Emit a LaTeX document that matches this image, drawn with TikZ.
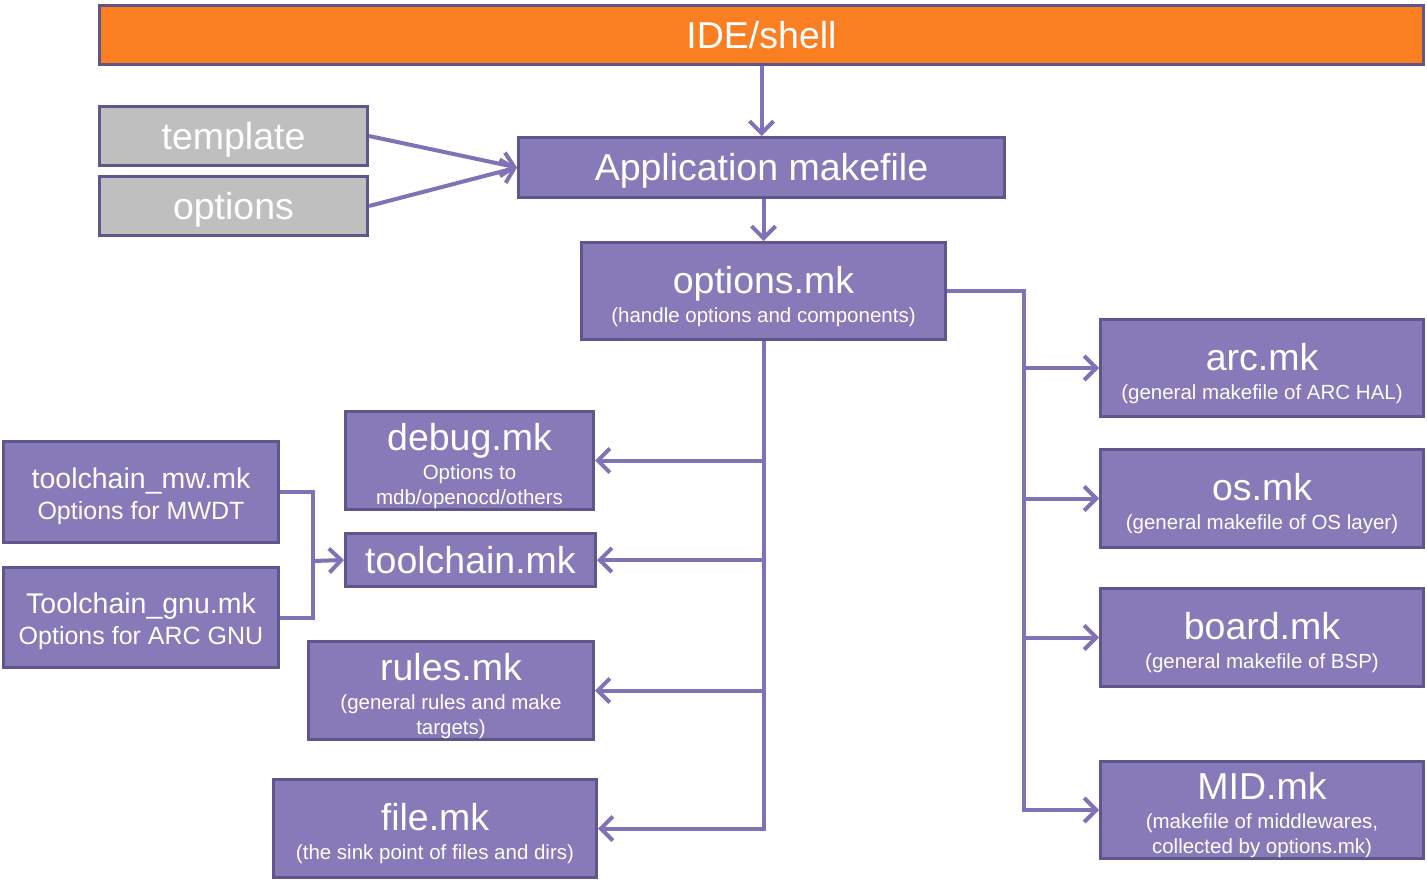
\documentclass[tikz,border=0pt]{standalone}
\usepackage{fontspec}
\setmainfont{Liberation Sans}
\usetikzlibrary{arrows.meta,positioning}
\usepackage{xcolor}
\definecolor{mkfill}{RGB}{134,122,184}
\definecolor{mkline}{RGB}{96,86,140}
\definecolor{wire}{RGB}{128,114,182}
\definecolor{shellfill}{RGB}{250,126,34}
\definecolor{tplfill}{RGB}{191,191,191}
\newcommand{\subtxt}{\fontsize{20.5}{25}\selectfont}
\newcommand{\tcsub}{\fontsize{25}{31}\selectfont}
\newcommand{\hd}{\rule{0pt}{1em}}

\begin{document}
\begin{tikzpicture}[x=1pt,y=-1pt,
			mkbox/.style={rectangle, draw=mkline, line width=3pt, fill=mkfill, text=white,
				inner sep=0pt, align=center, font=\fontsize{37.5}{29}\selectfont},
			single/.style={mkbox, text height=34pt, text depth=8pt},
			shell/.style={single, fill=shellfill},
			tpl/.style={single, fill=tplfill},
			tcbox/.style={mkbox, font=\fontsize{28.5}{31}\selectfont},
			link/.style={->, draw=wire, line width=4pt},
			wire/.style={draw=wire, line width=4pt},
			>={Straight Barb[length=12pt,width=24pt]}
			]
			\useasboundingbox (0,0) rectangle (1427,881);
			
			\node[shell, minimum width=1324pt, minimum height=59pt] (ide) at (761.5,35) {IDE/shell};
			\node[tpl, minimum width=268pt, minimum height=59pt] (template) at (233.5,136) {template};
			\node[tpl, minimum width=268pt, minimum height=59pt] (opts) at (233.5,206) {options};
			\node[single, minimum width=486pt, minimum height=60pt] (app) at (761.5,167.5) {Application makefile};
			\node[mkbox, minimum width=364pt, minimum height=97pt] (optmk) at (763.5,291)
			{\hd options.mk\\\subtxt (handle options and components)};
			
			\node[mkbox, minimum width=323pt, minimum height=97pt] (arc) at (1262,368)
			{\hd arc.mk\\\subtxt (general makefile of ARC HAL)};
			\node[mkbox, minimum width=323pt, minimum height=98pt] (os) at (1262,498.5)
			{\hd os.mk\\\subtxt (general makefile of OS layer)};
			\node[mkbox, minimum width=323pt, minimum height=98pt] (board) at (1262,637.5)
			{\hd board.mk\\\subtxt (general makefile of BSP)};
			\node[mkbox, minimum width=323pt, minimum height=97pt] (mid) at (1262,810)
			{\hd MID.mk\\\subtxt (makefile of middlewares,\\[-4pt]\subtxt collected by options.mk)};
			
			\node[mkbox, minimum width=248pt, minimum height=98pt] (debug) at (469.5,460.5)
			{\hd debug.mk\\\subtxt Options to\\[-4pt]\subtxt mdb/openocd/others};
			\node[single, minimum width=250pt, minimum height=53pt] (toolchain) at (470.5,560) {toolchain.mk};
			\node[mkbox, minimum width=285pt, minimum height=98pt] (rules) at (451,690.5)
			{\hd rules.mk\\\subtxt (general rules and make\\[-4pt]\subtxt targets)};
			\node[mkbox, minimum width=323pt, minimum height=98pt] (file) at (435,828.5)
			{\hd file.mk\\\subtxt (the sink point of files and dirs)};
			
			\node[tcbox, minimum width=275pt, minimum height=101pt] (tcmw) at (141,492)
			{\hd toolchain\_mw.mk\\\tcsub Options for MWDT};
			\node[tcbox, minimum width=275pt, minimum height=100pt] (tcgnu) at (141,617.5)
			{\hd Toolchain\_gnu.mk\\\tcsub Options for ARC GNU};
			
			\coordinate (rbus) at (1024,291);
			\coordinate (tbus) at (313,561);
			
			\draw[link] (ide.south) -- (app.north);
			\draw[link] (template.east) -- (app.west);
			\draw[link] (opts.east) -- (app.west);
			\draw[link] (app.south -| optmk) -- (optmk.north);
			
			\draw[link] (optmk.south) |- (file.east);
			\draw[link] (optmk.south |- debug.east) -- (debug.east);
			\draw[link] (optmk.south |- toolchain.east) -- (toolchain.east);
			\draw[link] (optmk.south |- rules.east) -- (rules.east);
			
			\draw[link] (optmk.east) -- (rbus) |- (mid.west);
			\draw[link] (rbus |- arc.west) -- (arc.west);
			\draw[link] (rbus |- os.west) -- (os.west);
			\draw[link] (rbus |- board.west) -- (board.west);
			
			\draw[wire] (tcmw.east) -| (tbus) |- (tcgnu.east);
			\draw[link] (tbus) -- (toolchain.west);
		\end{tikzpicture}
\end{document}
